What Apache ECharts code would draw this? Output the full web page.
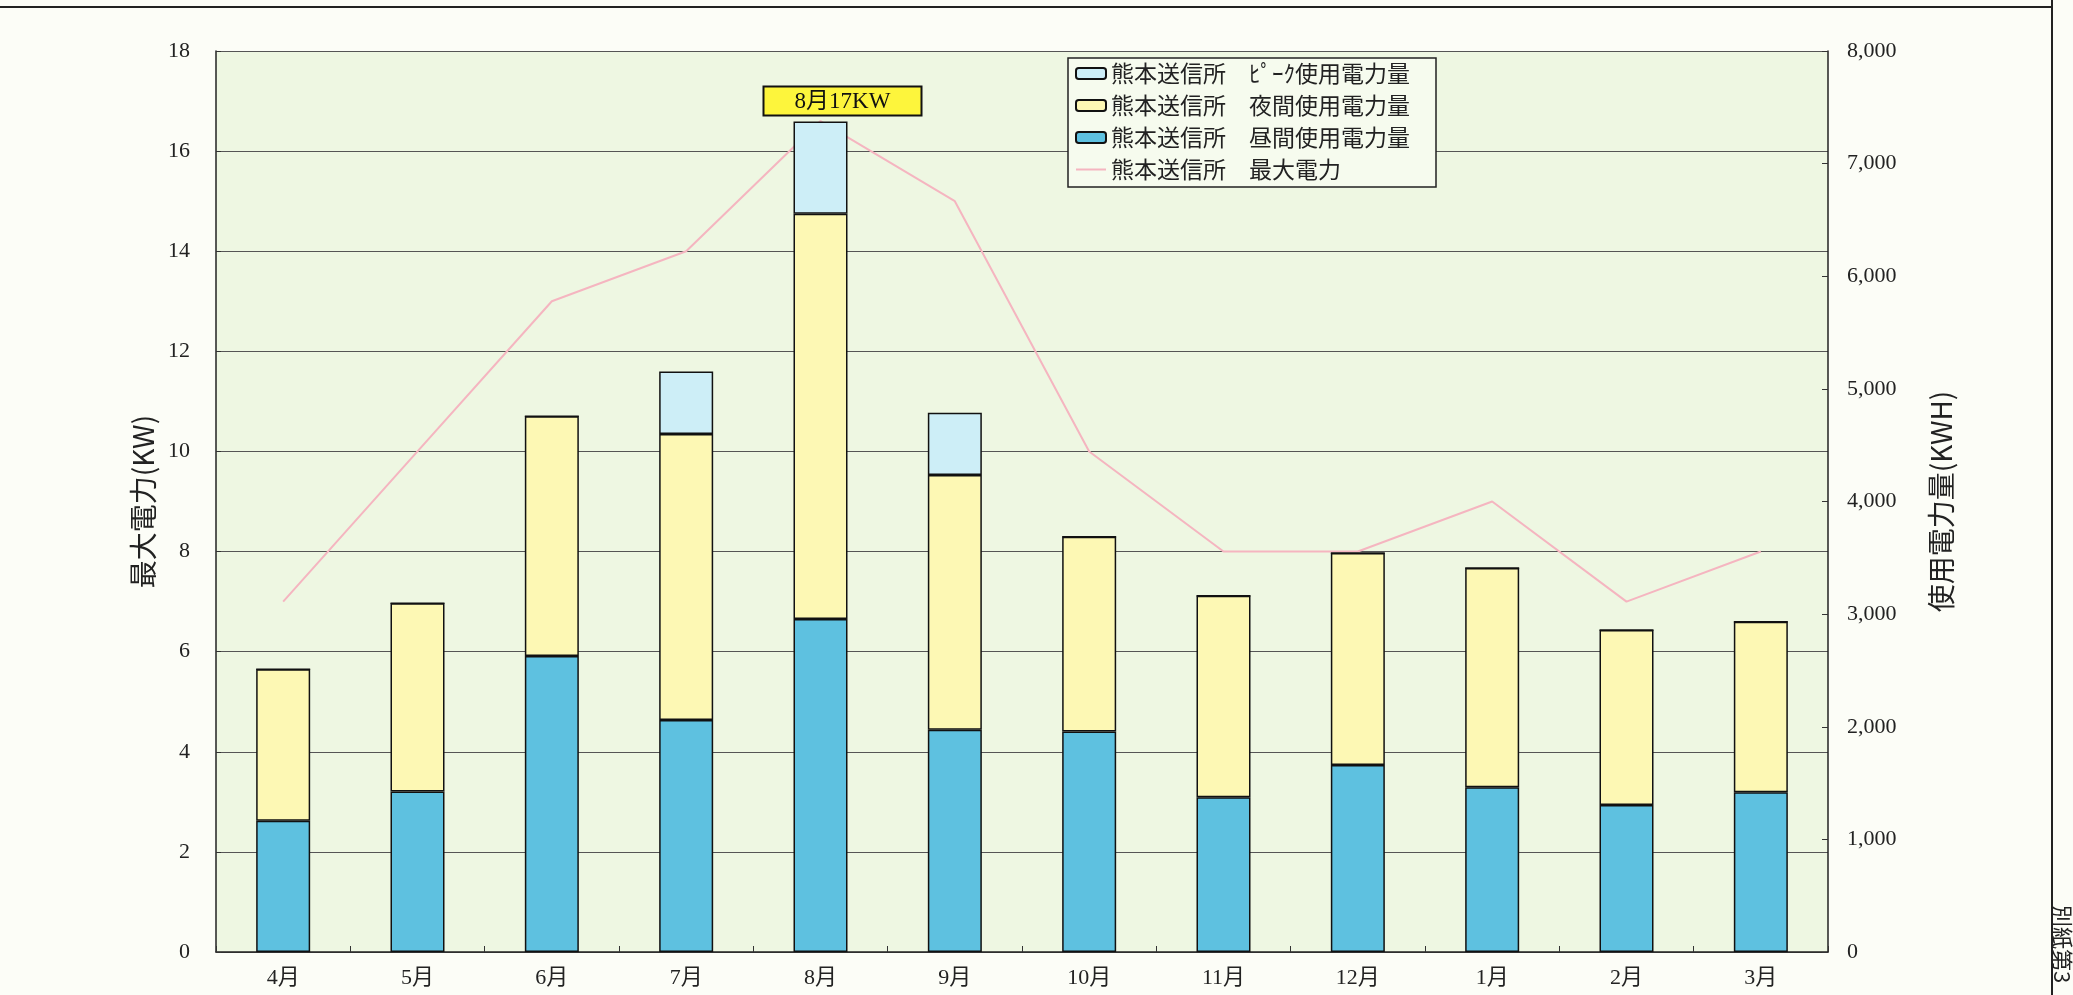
<!DOCTYPE html>
<html>
<head>
<meta charset="utf-8">
<script src="https://cdn.jsdelivr.net/npm/echarts@6/dist/echarts.min.js"></script>
<style>
  html, body { margin: 0; padding: 0; background: #fcfdf7; }
  #chart { width: 2073px; height: 995px; }
</style>
</head>
<body>
<div id="chart"></div>
<script>
// 月別データ
const months = ['4月', '5月', '6月', '7月', '8月', '9月', '10月', '11月', '12月', '1月', '2月', '3月']
const dayKwh = [1166, 1424, 2629, 2060, 2957, 1973, 1957, 1374, 1661, 1463, 1306, 1418]
const nightKwh = [1345, 1673, 2127, 2540, 3597, 2263, 1731, 1790, 1882, 1947, 1554, 1515]
const peakKwh = [0, 0, 0, 554, 820, 551, 0, 0, 0, 0, 0, 0]
const maxKw = [7, 10, 13, 14, 16.6, 15, 10, 8, 8, 9, 7, 8]

const names = ['熊本送信所　ﾋﾟｰｸ使用電力量', '熊本送信所　夜間使用電力量', '熊本送信所　昼間使用電力量', '熊本送信所　最大電力']

const serif = '"Liberation Serif", "Noto Sans CJK JP", serif'
const jp = '"Noto Sans CJK JP", sans-serif'

// 最大電力のピーク月にラベルを付ける
const peakIdx = maxKw.indexOf(Math.max(...maxKw))
const peakData = peakKwh.map((v, i) => {
  if (i !== peakIdx) return v
  return {
    value: v,
    label: {
      show: true,
      position: 'top',
      distance: 7,
      offset: [22, 0],
      formatter: months[i] + Math.round(maxKw[i]) + 'KW',
      fontFamily: serif,
      fontSize: 23,
      lineHeight: 24,
      color: '#111',
      backgroundColor: '#fdf53c',
      borderColor: '#111',
      borderWidth: 2,
      width: 156,
      align: 'center',
      padding: [2, 0, 1, 0]
    }
  }
})

const barBorder = { borderColor: '#111', borderWidth: 1.5 }

const option = {
  backgroundColor: '#fcfdf7',
  animation: false,
  grid: {
    left: 216,
    right: 245,
    top: 51,
    bottom: 43,
    show: true,
    backgroundColor: '#eef7e2',
    borderWidth: 0
  },
  legend: {
    orient: 'vertical',
    left: 1068,
    top: 58,
    data: [
      names[0],
      names[1],
      names[2],
      { name: names[3], itemStyle: { opacity: 0 } }
    ],
    itemWidth: 30,
    itemHeight: 11,
    itemGap: 9,
    padding: [4, 26, 6, 7],
    backgroundColor: '#f6fbee',
    borderColor: '#222',
    borderWidth: 1.5,
    borderRadius: 0,
    textStyle: { fontFamily: jp, fontSize: 23, color: '#222' }
  },
  xAxis: {
    type: 'category',
    data: months,
    axisLine: { lineStyle: { color: '#222', width: 1.5 } },
    axisTick: { show: true, inside: true, length: 6, lineStyle: { color: '#333' } },
    axisLabel: { fontFamily: serif, fontSize: 22, color: '#222', margin: 15 }
  },
  yAxis: [
    {
      type: 'value',
      min: 0,
      max: 18,
      interval: 2,
      name: '最大電力(KW)',
      nameLocation: 'middle',
      nameRotate: 90,
      nameGap: 58,
      nameTextStyle: { fontFamily: jp, fontSize: 28, color: '#222' },
      axisLine: { show: true, lineStyle: { color: '#222', width: 1.5 } },
      axisTick: { show: true, inside: true, length: 5, lineStyle: { color: '#333' } },
      axisLabel: { fontFamily: serif, fontSize: 22, color: '#222', margin: 26 },
      splitLine: { show: true, lineStyle: { color: '#555', width: 1.2 } }
    },
    {
      type: 'value',
      min: 0,
      max: 8000,
      interval: 1000,
      name: '使用電力量(KWH)',
      nameLocation: 'middle',
      nameRotate: 90,
      nameGap: 99,
      nameTextStyle: { fontFamily: jp, fontSize: 28, color: '#222' },
      axisLine: { show: true, lineStyle: { color: '#222', width: 1.5 } },
      axisTick: { show: true, inside: true, length: 6, lineStyle: { color: '#333' } },
      axisLabel: {
        fontFamily: serif,
        fontSize: 22,
        color: '#222',
        margin: 19,
        formatter: (v) => v.toLocaleString('en-US')
      },
      splitLine: { show: false }
    }
  ],
  series: [
    {
      name: names[2],
      type: 'bar',
      stack: 'kwh',
      yAxisIndex: 1,
      barWidth: 54,
      data: dayKwh,
      itemStyle: { color: '#5ec1e0', ...barBorder }
    },
    {
      name: names[1],
      type: 'bar',
      stack: 'kwh',
      yAxisIndex: 1,
      barWidth: 54,
      data: nightKwh,
      itemStyle: { color: '#fdf8b4', ...barBorder }
    },
    {
      name: names[0],
      type: 'bar',
      stack: 'kwh',
      yAxisIndex: 1,
      barWidth: 54,
      data: peakData,
      itemStyle: { color: '#cdeef7', ...barBorder }
    },
    {
      name: names[3],
      type: 'line',
      yAxisIndex: 0,
      data: maxKw,
      symbol: 'none',
      z: 1,
      lineStyle: { color: '#f5b5c0', width: 2 },
      itemStyle: { color: '#f5b5c0' }
    }
  ],
  graphic: [
    // 上部の表の下端と右の枠線
    { type: 'line', shape: { x1: 0, y1: 7, x2: 2052, y2: 7 }, style: { stroke: '#222', lineWidth: 2 } },
    { type: 'line', shape: { x1: 2052, y1: 0, x2: 2052, y2: 995 }, style: { stroke: '#222', lineWidth: 2 } },
    {
      type: 'text',
      x: 2062,
      y: 905,
      rotation: -Math.PI / 2,
      style: { text: '別紙第3', font: '22px "Noto Sans CJK JP"', fill: '#222', textAlign: 'left', textVerticalAlign: 'middle' }
    }
  ]
}

const myChart = echarts.init(document.getElementById('chart'))
myChart.setOption(option)
</script>
</body>
</html>
